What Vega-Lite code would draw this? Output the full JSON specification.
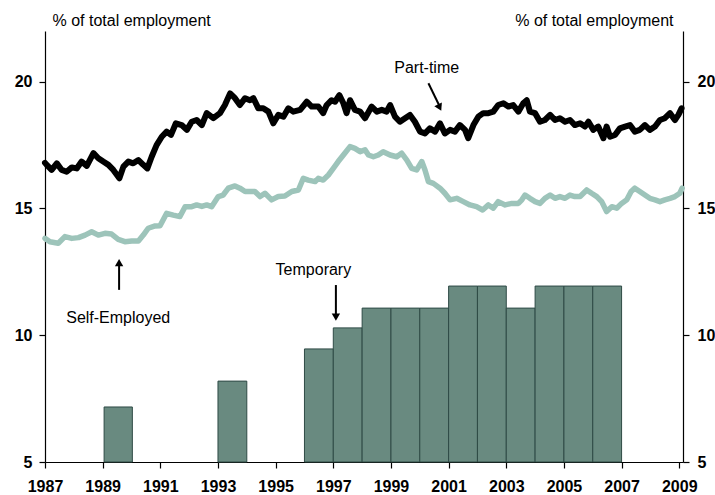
{
  "$schema": "https://vega.github.io/schema/vega-lite/v6.json",
  "width": 638,
  "height": 431,
  "autosize": "none",
  "padding": {"left": 45, "top": 31, "right": 32, "bottom": 33},
  "background": "white",
  "config": {
    "font": "Liberation Sans",
    "view": {"stroke": null},
    "axis": {"grid": false, "domainColor": "black", "tickColor": "black", "labelColor": "black", "titleColor": "black", "domainWidth": 1.2, "tickWidth": 1.2}
  },
  "datasets": {
    "pt": [
      {"t":1987.0,"v":16.8},{"t":1987.06,"v":16.72},{"t":1987.23,"v":16.52},{"t":1987.41,"v":16.78},{"t":1987.58,"v":16.52},{"t":1987.75,"v":16.45},{"t":1987.93,"v":16.62},{"t":1988.10,"v":16.58},{"t":1988.27,"v":16.85},{"t":1988.45,"v":16.68},{"t":1988.68,"v":17.18},{"t":1988.85,"v":16.98},{"t":1989.02,"v":16.85},{"t":1989.20,"v":16.72},{"t":1989.37,"v":16.52},{"t":1989.58,"v":16.19},{"t":1989.72,"v":16.65},{"t":1989.89,"v":16.85},{"t":1990.06,"v":16.78},{"t":1990.24,"v":16.91},{"t":1990.41,"v":16.72},{"t":1990.55,"v":16.58},{"t":1990.70,"v":17.04},{"t":1990.87,"v":17.5},{"t":1991.05,"v":17.83},{"t":1991.22,"v":18.03},{"t":1991.37,"v":17.9},{"t":1991.54,"v":18.36},{"t":1991.74,"v":18.29},{"t":1991.92,"v":18.1},{"t":1992.09,"v":18.42},{"t":1992.26,"v":18.49},{"t":1992.44,"v":18.29},{"t":1992.61,"v":18.76},{"t":1992.84,"v":18.56},{"t":1993.07,"v":18.76},{"t":1993.24,"v":19.08},{"t":1993.42,"v":19.54},{"t":1993.59,"v":19.35},{"t":1993.76,"v":19.08},{"t":1993.94,"v":19.35},{"t":1994.11,"v":19.27},{"t":1994.23,"v":19.35},{"t":1994.40,"v":18.95},{"t":1994.57,"v":18.95},{"t":1994.75,"v":18.82},{"t":1994.92,"v":18.36},{"t":1995.09,"v":18.69},{"t":1995.27,"v":18.62},{"t":1995.44,"v":18.95},{"t":1995.61,"v":18.82},{"t":1995.85,"v":18.89},{"t":1996.08,"v":19.21},{"t":1996.25,"v":19.02},{"t":1996.48,"v":19.02},{"t":1996.65,"v":18.76},{"t":1996.77,"v":19.08},{"t":1996.94,"v":19.27},{"t":1997.06,"v":19.21},{"t":1997.21,"v":19.47},{"t":1997.35,"v":19.15},{"t":1997.46,"v":18.76},{"t":1997.58,"v":19.27},{"t":1997.75,"v":18.89},{"t":1997.93,"v":18.82},{"t":1998.10,"v":18.56},{"t":1998.33,"v":19.02},{"t":1998.51,"v":18.82},{"t":1998.68,"v":18.89},{"t":1998.85,"v":18.82},{"t":1998.97,"v":19.08},{"t":1999.14,"v":18.62},{"t":1999.31,"v":18.42},{"t":1999.49,"v":18.56},{"t":1999.66,"v":18.69},{"t":1999.83,"v":18.42},{"t":2000.01,"v":18.03},{"t":2000.18,"v":17.96},{"t":2000.35,"v":18.16},{"t":2000.53,"v":18.03},{"t":2000.70,"v":18.36},{"t":2000.87,"v":17.96},{"t":2001.05,"v":18.1},{"t":2001.22,"v":18.03},{"t":2001.39,"v":18.29},{"t":2001.57,"v":18.1},{"t":2001.68,"v":17.77},{"t":2001.86,"v":18.29},{"t":2002.03,"v":18.62},{"t":2002.20,"v":18.76},{"t":2002.38,"v":18.76},{"t":2002.55,"v":18.82},{"t":2002.72,"v":19.08},{"t":2002.90,"v":19.15},{"t":2003.07,"v":19.02},{"t":2003.24,"v":19.08},{"t":2003.42,"v":18.82},{"t":2003.59,"v":19.15},{"t":2003.71,"v":19.27},{"t":2003.82,"v":18.82},{"t":2004.00,"v":18.76},{"t":2004.17,"v":18.42},{"t":2004.34,"v":18.49},{"t":2004.52,"v":18.69},{"t":2004.69,"v":18.49},{"t":2004.86,"v":18.56},{"t":2005.04,"v":18.42},{"t":2005.21,"v":18.49},{"t":2005.38,"v":18.29},{"t":2005.56,"v":18.36},{"t":2005.73,"v":18.23},{"t":2005.85,"v":18.42},{"t":2006.02,"v":18.1},{"t":2006.19,"v":18.23},{"t":2006.37,"v":17.77},{"t":2006.48,"v":18.23},{"t":2006.60,"v":17.83},{"t":2006.77,"v":17.9},{"t":2006.94,"v":18.16},{"t":2007.12,"v":18.23},{"t":2007.29,"v":18.29},{"t":2007.46,"v":18.03},{"t":2007.63,"v":18.1},{"t":2007.81,"v":18.29},{"t":2007.98,"v":18.1},{"t":2008.16,"v":18.23},{"t":2008.33,"v":18.49},{"t":2008.50,"v":18.56},{"t":2008.68,"v":18.76},{"t":2008.85,"v":18.49},{"t":2008.97,"v":18.69},{"t":2009.08,"v":18.95}
    ],
    "se": [
      {"t":1987.0,"v":13.82},{"t":1987.17,"v":13.69},{"t":1987.46,"v":13.63},{"t":1987.69,"v":13.89},{"t":1987.93,"v":13.82},{"t":1988.16,"v":13.85},{"t":1988.39,"v":13.95},{"t":1988.62,"v":14.08},{"t":1988.85,"v":13.95},{"t":1989.08,"v":14.02},{"t":1989.31,"v":13.99},{"t":1989.54,"v":13.78},{"t":1989.77,"v":13.69},{"t":1990.01,"v":13.72},{"t":1990.24,"v":13.72},{"t":1990.41,"v":13.95},{"t":1990.58,"v":14.22},{"t":1990.82,"v":14.31},{"t":1990.99,"v":14.32},{"t":1991.22,"v":14.81},{"t":1991.45,"v":14.74},{"t":1991.68,"v":14.68},{"t":1991.86,"v":15.07},{"t":1992.09,"v":15.07},{"t":1992.26,"v":15.14},{"t":1992.44,"v":15.08},{"t":1992.61,"v":15.14},{"t":1992.78,"v":15.07},{"t":1993.01,"v":15.47},{"t":1993.18,"v":15.53},{"t":1993.36,"v":15.8},{"t":1993.59,"v":15.89},{"t":1993.76,"v":15.8},{"t":1993.94,"v":15.67},{"t":1994.11,"v":15.67},{"t":1994.28,"v":15.67},{"t":1994.46,"v":15.47},{"t":1994.63,"v":15.6},{"t":1994.86,"v":15.34},{"t":1995.09,"v":15.47},{"t":1995.32,"v":15.49},{"t":1995.56,"v":15.67},{"t":1995.79,"v":15.73},{"t":1995.96,"v":16.19},{"t":1996.13,"v":16.12},{"t":1996.37,"v":16.06},{"t":1996.48,"v":16.19},{"t":1996.65,"v":16.12},{"t":1996.83,"v":16.32},{"t":1997.0,"v":16.58},{"t":1997.17,"v":16.85},{"t":1997.35,"v":17.11},{"t":1997.58,"v":17.44},{"t":1997.75,"v":17.37},{"t":1997.93,"v":17.24},{"t":1998.10,"v":17.31},{"t":1998.22,"v":17.11},{"t":1998.39,"v":17.04},{"t":1998.56,"v":17.11},{"t":1998.73,"v":17.24},{"t":1998.97,"v":17.11},{"t":1999.20,"v":17.04},{"t":1999.37,"v":17.18},{"t":1999.55,"v":16.91},{"t":1999.72,"v":16.58},{"t":1999.89,"v":16.52},{"t":2000.07,"v":16.85},{"t":2000.18,"v":16.52},{"t":2000.30,"v":16.06},{"t":2000.47,"v":15.99},{"t":2000.70,"v":15.8},{"t":2000.87,"v":15.6},{"t":2001.05,"v":15.34},{"t":2001.28,"v":15.4},{"t":2001.51,"v":15.27},{"t":2001.74,"v":15.14},{"t":2001.97,"v":15.07},{"t":2002.18,"v":14.94},{"t":2002.38,"v":15.14},{"t":2002.55,"v":15.01},{"t":2002.72,"v":15.27},{"t":2002.96,"v":15.14},{"t":2003.19,"v":15.2},{"t":2003.42,"v":15.2},{"t":2003.54,"v":15.34},{"t":2003.65,"v":15.53},{"t":2003.82,"v":15.4},{"t":2004.00,"v":15.27},{"t":2004.17,"v":15.2},{"t":2004.34,"v":15.4},{"t":2004.52,"v":15.53},{"t":2004.69,"v":15.4},{"t":2004.86,"v":15.47},{"t":2005.04,"v":15.4},{"t":2005.21,"v":15.53},{"t":2005.38,"v":15.47},{"t":2005.56,"v":15.47},{"t":2005.79,"v":15.73},{"t":2005.96,"v":15.6},{"t":2006.14,"v":15.47},{"t":2006.31,"v":15.27},{"t":2006.48,"v":14.88},{"t":2006.66,"v":15.07},{"t":2006.83,"v":15.01},{"t":2007.00,"v":15.2},{"t":2007.18,"v":15.34},{"t":2007.33,"v":15.67},{"t":2007.46,"v":15.8},{"t":2007.63,"v":15.67},{"t":2007.81,"v":15.53},{"t":2007.98,"v":15.4},{"t":2008.16,"v":15.34},{"t":2008.33,"v":15.27},{"t":2008.50,"v":15.34},{"t":2008.68,"v":15.4},{"t":2008.85,"v":15.47},{"t":2009.02,"v":15.6},{"t":2009.10,"v":15.8}
    ],
    "temp": [
      {"t":1989.05,"t2":1990.03,"v":7.17},
      {"t":1993,"t2":1994,"v":8.19},
      {"t":1996,"t2":1997,"v":9.46},
      {"t":1997,"t2":1998,"v":10.29},
      {"t":1998,"t2":1999,"v":11.07},
      {"t":1999,"t2":2000,"v":11.07},
      {"t":2000,"t2":2001,"v":11.07},
      {"t":2001,"t2":2002,"v":11.94},
      {"t":2002,"t2":2003,"v":11.94},
      {"t":2003,"t2":2004,"v":11.07},
      {"t":2004,"t2":2005,"v":11.94},
      {"t":2005,"t2":2006,"v":11.94},
      {"t":2006,"t2":2007,"v":11.94}
    ]
  },
  "resolve": {"axis": {"y": "independent"}},
  "layer": [
    {
      "data": {"name": "temp"},
      "mark": {"type": "bar", "fill": "#698a80", "stroke": "#2e4a45", "strokeWidth": 1},
      "encoding": {
        "x": {"field": "t", "type": "quantitative",
          "scale": {"domain": [1987, 2009.13], "nice": false, "zero": false},
          "axis": {"values": [1987,1988,1989,1990,1991,1992,1993,1994,1995,1996,1997,1998,1999,2000,2001,2002,2003,2004,2005,2006,2007,2008,2009],
            "labelExpr": "datum.value % 2 == 1 ? datum.value : ''", "format": "d", "title": null,
            "tickSize": 6, "labelPadding": 10, "labelFontSize": 16, "labelFontWeight": "bold",
            "labelFlush": false, "labelOverlap": false}},
        "x2": {"field": "t2"},
        "y": {"field": "v", "type": "quantitative",
          "scale": {"domain": [5, 22], "nice": false, "zero": false},
          "axis": {"orient": "left", "values": [5,10,15,20], "title": "% of total employment",
            "titleAngle": 0, "titleAlign": "left", "titleBaseline": "alphabetic", "titleX": 7, "titleY": -6,
            "titleFontSize": 16, "titleFontWeight": "normal",
            "tickSize": 6, "labelPadding": 7, "labelFontSize": 16, "labelFontWeight": "bold"}},
        "y2": {"datum": 5}
      }
    },
    {
      "data": {"name": "se"},
      "mark": {"type": "line", "color": "#9dc4ba", "strokeWidth": 5.5, "strokeJoin": "round", "strokeCap": "round"},
      "encoding": {
        "x": {"field": "t", "type": "quantitative"},
        "y": {"field": "v", "type": "quantitative",
          "axis": {"orient": "right", "values": [5,10,15,20], "title": "% of total employment",
            "titleAngle": 0, "titleAlign": "right", "titleBaseline": "alphabetic", "titleX": -10, "titleY": -6,
            "titleFontSize": 16, "titleFontWeight": "normal",
            "tickSize": 6, "labelPadding": 8, "labelFontSize": 16, "labelFontWeight": "bold"}}
      }
    },
    {
      "data": {"name": "pt"},
      "mark": {"type": "line", "color": "black", "strokeWidth": 6, "strokeJoin": "round", "strokeCap": "round"},
      "encoding": {
        "x": {"field": "t", "type": "quantitative"},
        "y": {"field": "v", "type": "quantitative", "axis": null}
      }
    },
    {
      "data": {"values": [
        {"label": "Part-time", "t": 2000.24, "v": 20.33},
        {"label": "Self-Employed", "t": 1989.54, "v": 10.48},
        {"label": "Temporary", "t": 1996.31, "v": 12.39}
      ]},
      "mark": {"type": "text", "fontSize": 16, "align": "center", "baseline": "alphabetic", "color": "black"},
      "encoding": {
        "x": {"field": "t", "type": "quantitative"},
        "y": {"field": "v", "type": "quantitative", "axis": null},
        "text": {"field": "label"}
      }
    },
    {
      "data": {"values": [
        {"t": 2000.30, "v": 19.94, "t2": 2000.70, "v2": 19.0},
        {"t": 1989.57, "v": 11.79, "t2": 1989.57, "v2": 12.9},
        {"t": 1997.09, "v": 11.98, "t2": 1997.09, "v2": 10.8}
      ]},
      "mark": {"type": "rule", "color": "black", "strokeWidth": 2},
      "encoding": {
        "x": {"field": "t", "type": "quantitative"},
        "y": {"field": "v", "type": "quantitative", "axis": null},
        "x2": {"field": "t2"},
        "y2": {"field": "v2"}
      }
    },
    {
      "data": {"values": [{"t": 1989.57, "v": 12.86}]},
      "mark": {"type": "point", "shape": "triangle-up", "filled": true, "color": "black", "size": 70, "opacity": 1},
      "encoding": {
        "x": {"field": "t", "type": "quantitative"},
        "y": {"field": "v", "type": "quantitative", "axis": null}
      }
    },
    {
      "data": {"values": [{"t": 1997.09, "v": 10.71}]},
      "mark": {"type": "point", "shape": "triangle-down", "filled": true, "color": "black", "size": 70, "opacity": 1},
      "encoding": {
        "x": {"field": "t", "type": "quantitative"},
        "y": {"field": "v", "type": "quantitative", "axis": null}
      }
    },
    {
      "data": {"values": [{"t": 2000.69, "v": 18.98}]},
      "mark": {"type": "point", "shape": "triangle-up", "angle": 154, "filled": true, "color": "black", "size": 70, "opacity": 1},
      "encoding": {
        "x": {"field": "t", "type": "quantitative"},
        "y": {"field": "v", "type": "quantitative", "axis": null}
      }
    }
  ]
}
